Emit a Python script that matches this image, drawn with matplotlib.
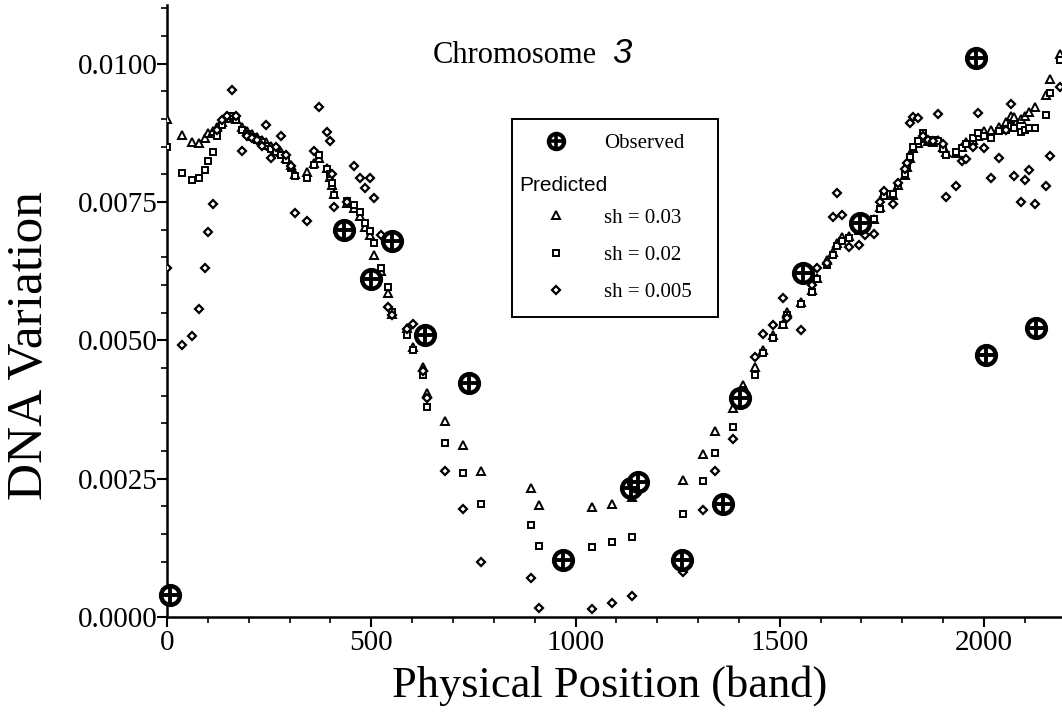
# Chromosome 3: observed vs predicted DNA variation along the physical map.
import numpy as np
import matplotlib
matplotlib.use("Agg")
import matplotlib.pyplot as plt
from matplotlib.lines import Line2D
from matplotlib.legend_handler import HandlerTuple
from matplotlib.ticker import MultipleLocator, FormatStrFormatter

# observed values (band position, variation)
obs_pos = [8, 434, 500, 550, 632, 740, 969, 1136, 1153, 1260, 1360, 1403, 1558, 1697, 1980, 2006, 2127]
obs_val = [0.0004, 0.0070, 0.0061, 0.0068, 0.0051, 0.00423, 0.00103, 0.00233, 0.00244,
           0.00103, 0.00205, 0.00395, 0.00622, 0.00712, 0.0101, 0.00473, 0.00523]

# predicted values, one entry per band position
pos = [0, 36, 60, 77, 93, 101, 112,
       122, 135, 147, 158, 170, 183,
       195, 208, 220, 232, 243, 255, 267, 279, 291, 303, 313,
       342, 360, 373, 391, 398, 404, 409,
       440, 458, 472, 485, 497, 506,
       523, 542, 550, 587, 603, 626, 636,
       680, 725, 769, 890, 911, 1041, 1090, 1139,
       1264, 1311, 1341, 1386, 1410, 1439, 1460, 1484,
       1507, 1517, 1551, 1578, 1592, 1615, 1631, 1641, 1653, 1670, 1695, 1709, 1731,
       1745, 1754, 1778, 1790, 1807, 1811, 1819, 1827, 1839, 1851, 1864, 1876, 1888, 1900, 1908,
       1932, 1945, 1957, 1974, 1986, 2000, 2018, 2037, 2055, 2067, 2074, 2090, 2100, 2110, 2125,
       2152, 2162, 2185]
sh_030 = [0.0090, 0.00871, 0.00859, 0.00857, 0.00865, 0.00875, 0.00878,
          0.00885, 0.00895, 0.00905, 0.00903, 0.00900, 0.00885,
          0.00878, 0.00872, 0.00868, 0.00862, 0.00858, 0.00852, 0.00846, 0.00840, 0.00830, 0.00816, 0.00800,
          0.00805, 0.00820, 0.00830, 0.00812, 0.00796, 0.00780, 0.00765,
          0.00748, 0.00740, 0.00725, 0.00705, 0.00690, 0.00654,
          0.00625, 0.00585, 0.00548, 0.00522, 0.00488, 0.00452, 0.00404,
          0.00355, 0.00310, 0.00263, 0.00233, 0.00202, 0.00199, 0.00205, 0.00217,
          0.00248, 0.00294, 0.00337, 0.00377, 0.00419, 0.00452, 0.00482, 0.00510,
          0.00530, 0.00552, 0.00570, 0.00591, 0.00612, 0.00645, 0.00660, 0.00675, 0.00687, 0.00688, 0.00700, 0.00712, 0.00720,
          0.00741, 0.00766, 0.00763, 0.00781, 0.00799, 0.00814, 0.00829, 0.00847, 0.00856, 0.00865, 0.00860, 0.00859, 0.00862, 0.00850, 0.00840,
          0.00838, 0.00850, 0.00858, 0.00862, 0.00870, 0.00878, 0.00880, 0.00885, 0.00895, 0.00905, 0.00904, 0.00900, 0.00905, 0.00912, 0.00921,
          0.00943, 0.00973, 0.01017]
sh_020 = [0.0085, 0.00803, 0.00790, 0.00793, 0.00808, 0.00824, 0.00841,
          0.00870, 0.00890, 0.00900, 0.00905, 0.00898, 0.00880,
          0.00872, 0.00868, 0.00862, 0.00858, 0.00852, 0.00846, 0.00840, 0.00835, 0.00826, 0.00812, 0.00797,
          0.00794, 0.00817, 0.00835, 0.00810, 0.00800, 0.00785, 0.00762,
          0.00752, 0.00745, 0.00732, 0.00712, 0.00698, 0.00675,
          0.00630, 0.00597, 0.00552, 0.00510, 0.00482, 0.00437, 0.00379,
          0.00314, 0.00260, 0.00204, 0.00167, 0.00129, 0.00127, 0.00135, 0.00145,
          0.00186, 0.00245, 0.00296, 0.00344, 0.00410, 0.00437, 0.00478, 0.00505,
          0.00528, 0.00545, 0.00565, 0.00588, 0.00610, 0.00637, 0.00655, 0.00670, 0.00680, 0.00685, 0.00705, 0.00715, 0.00720,
          0.00738, 0.00760, 0.00765, 0.00778, 0.00800, 0.00812, 0.00832, 0.00850, 0.00860, 0.00874, 0.00858, 0.00862, 0.00860, 0.00845, 0.00835,
          0.00840, 0.00848, 0.00855, 0.00865, 0.00875, 0.00870, 0.00865, 0.00878, 0.00880, 0.00888, 0.00883, 0.00877, 0.00880, 0.00884, 0.00884,
          0.00907, 0.00947, 0.01007]
sh_005 = [0.0063, 0.00492, 0.00508, 0.00557, 0.00630, 0.00696, 0.00746,
          0.00880, 0.00898, 0.00906, 0.00952, 0.00905, 0.00842,
          0.00870, 0.00865, 0.00862, 0.00852, 0.00890, 0.00829, 0.00850, 0.00870, 0.00835, 0.00815, 0.00730,
          0.00716, 0.00843, 0.00922, 0.00876, 0.00860, 0.00800, 0.00741,
          0.00750, 0.00815, 0.00793, 0.00776, 0.00793, 0.00758,
          0.00690, 0.00560, 0.00545, 0.00520, 0.00529, 0.00445, 0.00395,
          0.00263, 0.00196, 0.00100, 0.00070, 0.00016, 0.00014, 0.00026, 0.00038,
          0.00082, 0.00193, 0.00264, 0.00321, 0.00400, 0.00470, 0.00512, 0.00528,
          0.00576, 0.00540, 0.00519, 0.00600, 0.00630, 0.00640, 0.00723, 0.00766, 0.00726, 0.00669, 0.00672, 0.00690, 0.00693,
          0.00750, 0.00770, 0.00746, 0.00785, 0.00810, 0.00820, 0.00892, 0.00904, 0.00901, 0.00870, 0.00862, 0.00860, 0.00909, 0.00855, 0.00759,
          0.00778, 0.00824, 0.00827, 0.00850, 0.00910, 0.00848, 0.00794, 0.00830, 0.00880, 0.00927, 0.00797, 0.00750, 0.00790, 0.00807, 0.00746,
          0.00778, 0.00833, 0.00958]

serif = "Liberation Serif"
sans = "Liberation Sans"

fig = plt.figure(figsize=(10.62, 7.12), dpi=100)
ax = fig.add_axes([0.1573, 0.1334, 0.8427, 0.8596])

ax.plot(pos, sh_030, '^', ms=5.2, mfc='white', mec='k', mew=1.4, ls='none', zorder=3)
ax.plot(pos, sh_020, 's', ms=4.8, mfc='white', mec='k', mew=1.4, ls='none', zorder=3)
ax.plot(pos, sh_005, 'D', ms=3.8, mfc='white', mec='k', mew=1.6, ls='none', zorder=3)
ax.plot(obs_pos, obs_val, 'o', ms=13.5, mfc='white', mec='k', mew=3.2, ls='none', zorder=5, clip_on=False)
ax.plot(obs_pos, obs_val, '+', ms=13.5, mec='k', mew=2.8, ls='none', zorder=6, clip_on=False)

ax.set_xlim(0, 2191)
ax.set_ylim(0, 0.01106)
for s in ['top', 'right']:
    ax.spines[s].set_visible(False)
for s in ['left', 'bottom']:
    ax.spines[s].set_linewidth(1.8)
ax.xaxis.set_major_locator(MultipleLocator(500))
ax.xaxis.set_minor_locator(MultipleLocator(100))
ax.yaxis.set_major_locator(MultipleLocator(0.0025))
ax.yaxis.set_minor_locator(MultipleLocator(0.0005))
ax.yaxis.set_major_formatter(FormatStrFormatter('%.4f'))
ax.tick_params(which='major', direction='out', length=7, width=1.5, labelsize=21, pad=2)
ax.tick_params(which='minor', direction='out', length=4, width=1.2)
ax.tick_params(axis='y', pad=0)
for lab in ax.get_xticklabels() + ax.get_yticklabels():
    lab.set_family(serif)

ax.set_xlabel("Physical Position (band)", fontsize=32, family=serif)
ax.set_ylabel("DNA Variation", fontsize=37, family=serif)
ax.xaxis.set_label_coords(0.495, -0.078)
ax.yaxis.set_label_coords(-0.127, 0.443)

ax.text(0.297, 0.905, "Chromosome", transform=ax.transAxes, fontsize=22, family=serif, va='baseline')
ax.text(0.497, 0.905, "3", transform=ax.transAxes, fontsize=25, family=sans, style='italic', va='baseline')

# legend
h_obs = (Line2D([], [], marker='o', ms=11, mfc='white', mec='k', mew=3.0, ls='none'),
         Line2D([], [], marker='+', ms=11, mec='k', mew=2.6, ls='none'))
h_blank = Line2D([], [], ls='none')
h_tri = Line2D([], [], marker='^', ms=5.2, mfc='white', mec='k', mew=1.4, ls='none')
h_sq = Line2D([], [], marker='s', ms=4.8, mfc='white', mec='k', mew=1.4, ls='none')
h_dia = Line2D([], [], marker='D', ms=3.8, mfc='white', mec='k', mew=1.6, ls='none')
leg = ax.legend([h_obs, h_blank, h_tri, h_sq, h_dia],
                ['Observed', ' ', 'sh = 0.03', 'sh = 0.02', 'sh = 0.005'],
                handler_map={tuple: HandlerTuple(ndivide=1, pad=0)},
                loc='upper left', bbox_to_anchor=(0.3855, 0.4935, 0.2302, 0.3202),
                mode='expand',
                prop={'family': serif, 'size': 15}, frameon=True, fancybox=False,
                edgecolor='k', framealpha=1, borderpad=0.7, labelspacing=0.85,
                handlelength=2.8, handletextpad=0.9, borderaxespad=0)
leg.get_frame().set_linewidth(1.4)
ax.text(0.394, 0.7055, "Predicted", transform=ax.transAxes, fontsize=15, family=sans,
        va='center', zorder=10)

fig.savefig("out.png", dpi=100)
